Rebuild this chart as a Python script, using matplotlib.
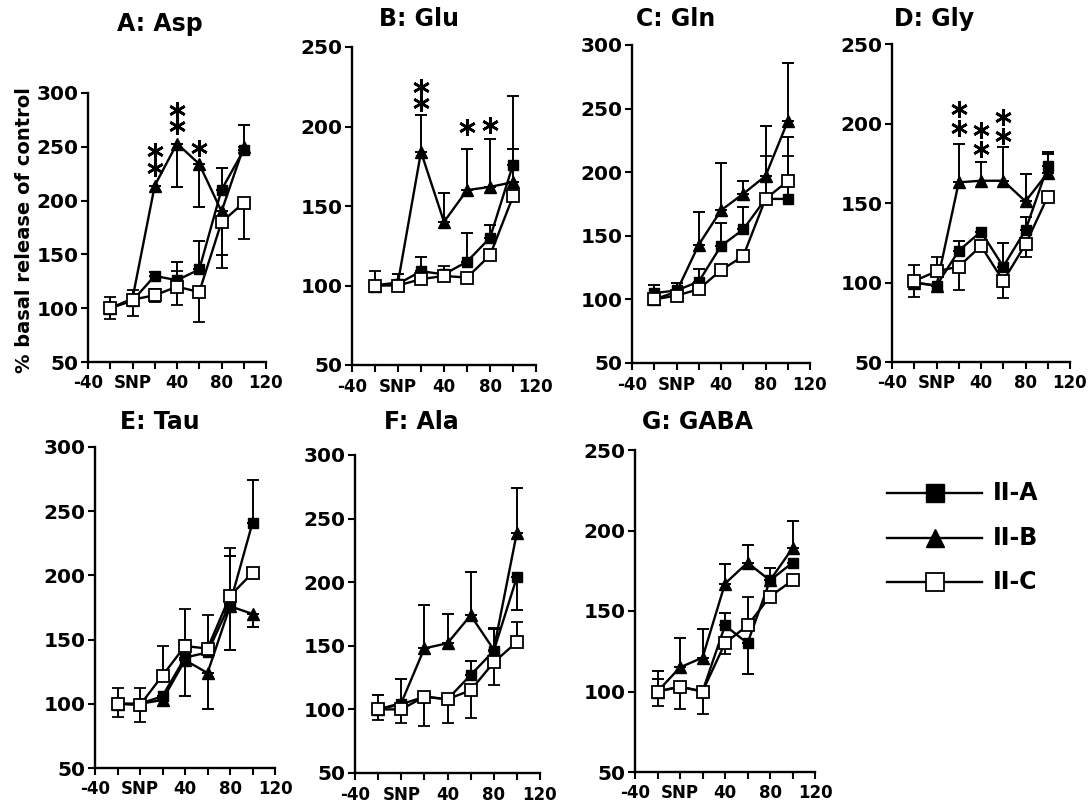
import matplotlib
matplotlib.use("Agg")
import matplotlib.pyplot as plt
from matplotlib.ticker import MultipleLocator

plt.rcParams['font.family'] = ['DejaVu Sans']
plt.rcParams['font.weight'] = 'bold'

# time points (min); 0 = SNP
times = [-20, 0, 20, 40, 60, 80, 100]
xtick_pos = [-40, 0, 40, 80, 120]
xtick_labels = ['-40', 'SNP', '40', '80', '120']
groups = ['II-A', 'II-B', 'II-C']

# A: Asp
asp_A = [100, 107, 130, 126, 136, 210, 247]
asp_A_up = [0, 0, 4, 17, 26, 20, 23]
asp_A_dn = [0, 0, 0, 0, 0, 0, 0]
asp_B = [100, 109, 214, 253, 234, 190, 250]
asp_B_up = [0, 0, 0, 0, 0, 0, 0]
asp_B_dn = [0, 0, 0, 40, 40, 41, 0]
asp_C = [100, 108, 112, 120, 115, 180, 198]
asp_C_up = [10, 9, 6, 15, 0, 0, 0]
asp_C_dn = [10, 15, 6, 17, 28, 43, 34]
asp_stars = [(20, 246), (20, 230), (40, 284), (40, 269), (60, 249)]

# B: Glu
glu_A = [100, 101, 109, 107, 115, 130, 176]
glu_A_up = [0, 0, 9, 0, 18, 8, 10]
glu_A_dn = [0, 0, 0, 0, 0, 0, 0]
glu_B = [100, 102, 184, 140, 160, 162, 165]
glu_B_up = [0, 5, 23, 18, 26, 30, 54]
glu_B_dn = [0, 0, 0, 0, 0, 0, 0]
glu_C = [100, 100, 104, 106, 105, 119, 156]
glu_C_up = [9, 0, 0, 6, 0, 0, 0]
glu_C_dn = [0, 0, 0, 0, 0, 0, 0]
glu_stars = [(20, 225), (20, 215), (60, 200), (80, 201)]

# C: Gln
gln_A = [105, 107, 114, 142, 155, 179, 179]
gln_A_up = [6, 6, 10, 18, 18, 0, 49]
gln_A_dn = [0, 0, 0, 0, 0, 0, 0]
gln_B = [100, 106, 143, 170, 183, 197, 240]
gln_B_up = [0, 0, 26, 37, 10, 39, 46]
gln_B_dn = [0, 0, 0, 0, 0, 0, 0]
gln_C = [100, 103, 108, 123, 134, 179, 193]
gln_C_up = [0, 0, 0, 0, 0, 34, 20]
gln_C_dn = [0, 0, 0, 0, 0, 0, 0]
gln_stars = []

# D: Gly
gly_A = [100, 98, 120, 132, 110, 133, 173]
gly_A_up = [0, 0, 6, 0, 15, 8, 9]
gly_A_dn = [0, 0, 0, 0, 0, 0, 0]
gly_B = [100, 98, 163, 164, 164, 151, 169]
gly_B_up = [0, 0, 24, 12, 21, 17, 12]
gly_B_dn = [0, 0, 0, 0, 0, 0, 0]
gly_C = [101, 107, 110, 123, 101, 124, 154]
gly_C_up = [10, 9, 0, 0, 0, 0, 0]
gly_C_dn = [10, 0, 15, 0, 11, 8, 0]
gly_stars = [(20, 209), (20, 197), (40, 196), (40, 184), (60, 204), (60, 192)]

# E: Tau
tau_A = [100, 100, 106, 136, 140, 178, 241]
tau_A_up = [0, 0, 0, 14, 0, 37, 33]
tau_A_dn = [0, 0, 0, 0, 0, 0, 0]
tau_B = [100, 100, 103, 134, 124, 176, 170]
tau_B_up = [0, 0, 0, 0, 0, 0, 0]
tau_B_dn = [0, 0, 0, 28, 28, 34, 10]
tau_C = [100, 99, 122, 145, 143, 184, 202]
tau_C_up = [12, 13, 23, 29, 26, 37, 0]
tau_C_dn = [10, 13, 0, 0, 0, 0, 0]
tau_stars = []

# F: Ala
ala_A = [100, 104, 110, 108, 127, 146, 204]
ala_A_up = [11, 0, 0, 0, 11, 17, 0]
ala_A_dn = [0, 0, 0, 0, 0, 0, 26]
ala_B = [100, 105, 148, 152, 174, 147, 239]
ala_B_up = [0, 19, 34, 23, 34, 17, 35]
ala_B_dn = [0, 0, 0, 0, 0, 0, 0]
ala_C = [100, 100, 110, 108, 115, 137, 153]
ala_C_up = [0, 0, 0, 0, 0, 0, 16]
ala_C_dn = [8, 11, 23, 19, 22, 18, 0]
ala_stars = []

# G: GABA
gaba_A = [100, 103, 100, 141, 130, 169, 180]
gaba_A_up = [13, 0, 0, 8, 0, 8, 0]
gaba_A_dn = [0, 0, 0, 0, 19, 0, 0]
gaba_B = [100, 115, 121, 167, 180, 169, 189]
gaba_B_up = [8, 18, 18, 12, 11, 0, 17]
gaba_B_dn = [0, 0, 0, 0, 0, 0, 0]
gaba_C = [100, 103, 100, 130, 141, 159, 169]
gaba_C_up = [0, 0, 0, 0, 18, 0, 0]
gaba_C_dn = [9, 14, 14, 7, 0, 0, 0]
gaba_stars = []

W, H = 1088, 806

# (title, series, stars, ymax, axes box px [left, top, right, bottom], title xy px)
panels = [
    ("A: Asp", [(asp_A, asp_A_up, asp_A_dn), (asp_B, asp_B_up, asp_B_dn), (asp_C, asp_C_up, asp_C_dn)],
     asp_stars, 300, (88, 93, 266, 362), (160, 24)),
    ("B: Glu", [(glu_A, glu_A_up, glu_A_dn), (glu_B, glu_B_up, glu_B_dn), (glu_C, glu_C_up, glu_C_dn)],
     glu_stars, 250, (352, 47, 536, 365), (419, 19)),
    ("C: Gln", [(gln_A, gln_A_up, gln_A_dn), (gln_B, gln_B_up, gln_B_dn), (gln_C, gln_C_up, gln_C_dn)],
     gln_stars, 300, (632, 45, 810, 363), (676, 19)),
    ("D: Gly", [(gly_A, gly_A_up, gly_A_dn), (gly_B, gly_B_up, gly_B_dn), (gly_C, gly_C_up, gly_C_dn)],
     gly_stars, 250, (892, 44, 1070, 362), (934, 19)),
    ("E: Tau", [(tau_A, tau_A_up, tau_A_dn), (tau_B, tau_B_up, tau_B_dn), (tau_C, tau_C_up, tau_C_dn)],
     tau_stars, 300, (95, 447, 275, 768), (160, 422)),
    ("F: Ala", [(ala_A, ala_A_up, ala_A_dn), (ala_B, ala_B_up, ala_B_dn), (ala_C, ala_C_up, ala_C_dn)],
     ala_stars, 300, (355, 455, 540, 773), (421, 422)),
    ("G: GABA", [(gaba_A, gaba_A_up, gaba_A_dn), (gaba_B, gaba_B_up, gaba_B_dn), (gaba_C, gaba_C_up, gaba_C_dn)],
     gaba_stars, 250, (635, 450, 815, 772), (697, 422)),
]

styles = [
    dict(marker='s', mfc='black', mec='black', ms=7.5),
    dict(marker='^', mfc='black', mec='black', ms=8),
    dict(marker='s', mfc='white', mec='black', ms=8, mew=1.3),
]
draw_order = [1, 0, 2]

fig = plt.figure(figsize=(W / 100, H / 100), dpi=100)

for title, series, stars, ymax, box, tpos in panels:
    l, t, r, b = box
    ax = fig.add_axes([l / W, 1 - b / H, (r - l) / W, (b - t) / H])
    for i in draw_order:
        vals, up, dn = series[i]
        ax.errorbar(times, vals, yerr=[dn, up], color='black', lw=1.7,
                    elinewidth=1.4, capsize=4.5, capthick=1.4, zorder=3 + i,
                    **styles[i])
    for sx, sy in stars:
        ax.plot(sx, sy, marker=(6, 2, 0), ms=12, mew=1.9, color='black', zorder=10)
    ax.set_xlim(-40, 120)
    ax.set_ylim(50, ymax)
    ax.set_xticks(xtick_pos)
    ax.set_xticklabels(xtick_labels)
    ax.xaxis.set_minor_locator(MultipleLocator(20))
    ax.yaxis.set_major_locator(MultipleLocator(50))
    ax.spines['top'].set_visible(False)
    ax.spines['right'].set_visible(False)
    ax.spines['left'].set_linewidth(1.7)
    ax.spines['bottom'].set_linewidth(1.7)
    ax.tick_params(axis='both', which='both', direction='out', length=5, width=1.5)
    ax.tick_params(axis='x', labelsize=12, pad=4)
    ax.tick_params(axis='y', labelsize=14.5, pad=2)
    for lab in ax.get_xticklabels() + ax.get_yticklabels():
        lab.set_fontweight('bold')
    fig.text(tpos[0] / W, 1 - tpos[1] / H, title, ha='center', va='center',
             fontsize=17, fontweight='bold')

fig.text(25 / W, 1 - 230 / H, '% basal release of control', rotation=90,
         ha='center', va='center', fontsize=14, fontweight='bold')

# legend drawn as lines in figure pixel coordinates
leg_ax = fig.add_axes([0, 0, 1, 1], facecolor='none')
leg_ax.set_xlim(0, W)
leg_ax.set_ylim(H, 0)
leg_ax.axis('off')
leg_rows = [493, 538, 582]
for i, yy in enumerate(leg_rows):
    leg_ax.plot([887, 982], [yy, yy], color='black', lw=1.7)
    st = dict(styles[i])
    st['ms'] = st['ms'] * 1.7
    leg_ax.plot([935], [yy], color='black', **st)
    leg_ax.text(993, yy, groups[i], ha='left', va='center', fontsize=17,
                fontweight='bold')

fig.savefig('out.png', dpi=100)
